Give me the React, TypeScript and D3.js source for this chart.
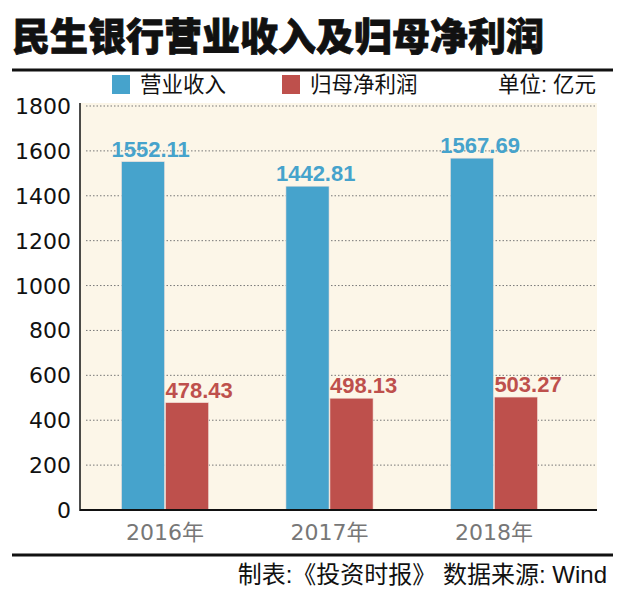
import React from 'react';
import * as d3 from 'd3';

const years = ['2016年', '2017年', '2018年'];
const revenue = [1552.11, 1442.81, 1567.69];
const netProfit = [478.43, 498.13, 503.27];
const yTicks = [0, 200, 400, 600, 800, 1000, 1200, 1400, 1600, 1800];

const seriesNames = ['营业收入', '归母净利润'];
const colors = ['#46a3cc', '#be504c'];

const W = 624;
const H = 612;
const margin = { left: 80, right: 27, top: 106, bottom: 102 };

const cjk = '"Liberation Sans", "Noto Sans CJK SC", sans-serif';
const wide = '"DejaVu Sans", "Noto Sans CJK SC", sans-serif';

export default function App() {
  const plotW = W - margin.left - margin.right;
  const y0 = H - margin.bottom;

  const x = d3.scaleBand<string>()
    .domain(years)
    .range([margin.left + 2, margin.left + 497])
    .paddingInner(0.47)
    .paddingOuter(0.24);

  const y = d3.scaleLinear().domain([0, 1800]).range([y0, margin.top]);

  const sub = d3.scaleBand<number>()
    .domain([0, 1])
    .range([0, x.bandwidth()])
    .paddingInner(0.02);

  const data = [revenue, netProfit];

  return (
    <svg width={W} height={H} style={{ position: 'absolute', left: 0, top: 0, background: '#fff' }}>
      {/* title */}
      <text x={12} y={50} fontFamily='"Noto Sans CJK SC", sans-serif' fontWeight={900}
        fontSize={38} fill="#111" stroke="#111" strokeWidth={0.8}>民生银行营业收入及归母净利润</text>
      <line x1={12} x2={613} y1={70} y2={70} stroke="#111" strokeWidth={3} />

      {/* legend */}
      {seriesNames.map((name, i) => {
        const lx = i === 0 ? 112 : 282;
        return (
          <g key={name}>
            <rect x={lx} y={75} width={18} height={19} fill={colors[i]} />
            <text x={lx + 28} y={92} fontFamily={cjk} fontSize={21.5} fill="#111">{name}</text>
          </g>
        );
      })}
      <text x={596} y={92} textAnchor="end" fontFamily={cjk} fontSize={21.5} fill="#111">单位: 亿元</text>

      {/* plot background */}
      <rect x={margin.left} y={margin.top - 3} width={plotW} height={y0 - margin.top + 3} fill="#fcf6e8" />

      {/* gridlines */}
      {yTicks.filter(t => t > 0).map(t => (
        <line key={t} x1={margin.left + 6} x2={margin.left + plotW - 2} y1={y(t)} y2={y(t)}
          stroke="#777" strokeWidth={1} strokeDasharray="1.5 2" />
      ))}

      {/* y tick labels */}
      {yTicks.map(t => (
        <text key={t} x={71} y={y(t) + 8} textAnchor="end" fontFamily={wide} fontSize={22} fill="#111">{t}</text>
      ))}

      {/* bars */}
      {years.map((yr, j) => (
        <g key={yr} transform={`translate(${x(yr)},0)`}>
          {data.map((vals, i) => (
            <rect key={i} x={sub(i)} y={y(vals[j])} width={sub.bandwidth()} height={y0 - y(vals[j])}
              fill={colors[i]} stroke="#f3e3dc" strokeWidth={0.6} />
          ))}
          {data.map((vals, i) => (
            <text key={'l' + i} x={(sub(i) ?? 0) - (i === 0 ? 10 : 0)} y={y(vals[j]) - 5}
              fontFamily={cjk} fontWeight={700} fontSize={22}
              fill={colors[i]}>{vals[j].toFixed(2)}</text>
          ))}
        </g>
      ))}

      {/* axes */}
      <line x1={margin.left} x2={margin.left} y1={margin.top - 3} y2={y0 + 1} stroke="#111" strokeWidth={1.5} />
      <line x1={margin.left} x2={margin.left + plotW} y1={y0} y2={y0} stroke="#111" strokeWidth={2} />

      {/* x labels */}
      {years.map(yr => (
        <text key={yr} x={(x(yr) ?? 0) + x.bandwidth() / 2} y={y0 + 30} textAnchor="middle"
          fontFamily={wide} fontSize={22} fill="#777">{yr}</text>
      ))}

      {/* footer */}
      <line x1={12} x2={613} y1={555} y2={555} stroke="#111" strokeWidth={3} />
      <text x={607} y={583} textAnchor="end" fontFamily={cjk} fontSize={24} fill="#111">制表:《投资时报》 数据来源: Wind</text>
    </svg>
  );
}
